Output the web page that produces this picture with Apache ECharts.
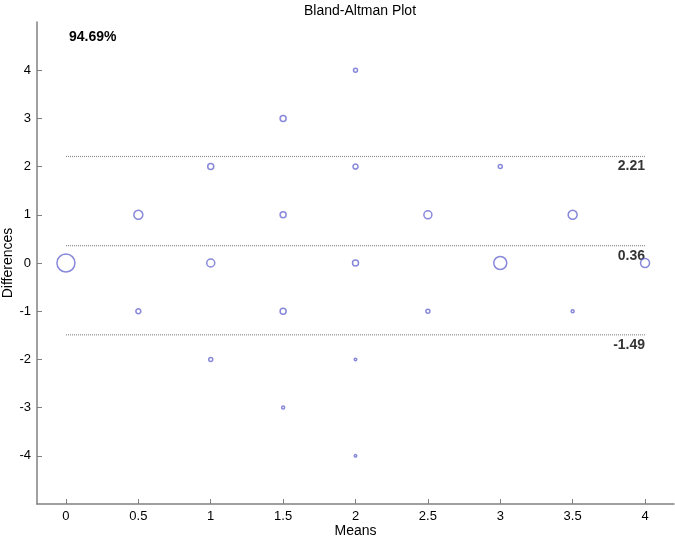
<!DOCTYPE html>
<html>
<head>
<meta charset="utf-8">
<script src="https://cdn.jsdelivr.net/npm/echarts@6/dist/echarts.min.js"></script>
<style>html,body{margin:0;padding:0;background:#fff}#chart{width:675px;height:539px}</style>
</head>
<body>
<div id="chart"></div>
<script>
// Data
var means =       [0, 0.5, 0.5, 1, 1, 1, 1.5, 1.5, 1.5, 1.5, 2, 2, 2, 2, 2, 2.5, 2.5, 3, 3, 3.5, 3.5, 4];
var differences = [0, 1, -1, 2, 0, -2, 3, 1, -1, -3, 4, 2, 0, -2, -4, 1, -1, 2, 0, 1, -1, 0];
// marker diameter (reflects how many observations share the point)
var markerDiameter = [18, 9, 5, 6, 8, 4, 6, 6, 6, 3, 4, 5, 6, 2.5, 2.5, 8, 4, 4, 13, 9, 3, 9];
var limitValues = [2.21, 0.36, -1.49];
var limitLabels = ['2.21', '0.36', '-1.49'];
var xTicks = [0, 0.5, 1, 1.5, 2, 2.5, 3, 3.5, 4];
var yTicks = [-4, -3, -2, -1, 0, 1, 2, 3, 4];
var agreementText = '94.69%';

var chart = echarts.init(document.getElementById('chart'));
var font = 'Liberation Sans, Arial, sans-serif';

var points = means.map(function (m, i) {
  return { value: [m, differences[i]], symbolSize: markerDiameter[i] };
});

var series = [{
  type: 'scatter',
  data: points,
  symbol: 'circle',
  itemStyle: { color: 'rgba(255,255,255,0)', borderColor: '#6a6ad2', borderWidth: 1.5 },
  z: 5,
  silent: true
}];

limitValues.forEach(function (v, i) {
  series.push({
    type: 'line',
    data: [[xTicks[0], v], [xTicks[xTicks.length - 1], v]],
    symbol: 'none',
    lineStyle: { color: '#8c8c8c', width: 1.2, type: [1, 1] },
    silent: true,
    z: 3
  });
  series.push({
    type: 'scatter',
    data: [[xTicks[xTicks.length - 1], v]],
    symbolSize: 0,
    silent: true,
    label: {
      show: true,
      position: [0, 10],
      align: 'right',
      verticalAlign: 'middle',
      formatter: limitLabels[i],
      fontFamily: font,
      fontSize: 14,
      fontWeight: 'bold',
      color: '#000'
    },
    z: 4
  });
});

chart.setOption({
  animation: false,
  backgroundColor: '#fff',
  title: [{
    text: 'Bland-Altman Plot',
    left: 355,
    textAlign: 'center',
    top: -1,
    textStyle: { fontFamily: font, fontSize: 14, fontWeight: 'normal', color: '#000' }
  }, {
    text: agreementText,
    left: 64,
    top: 25,
    textStyle: { fontFamily: font, fontSize: 14, fontWeight: 'bold', color: '#000' }
  }],
  grid: { left: 37, right: 1, top: 22, bottom: 35, containLabel: false, outerBoundsMode: 'none' },
  xAxis: {
    type: 'value',
    min: -0.2,
    max: 4.2,
    interval: 0.5,
    name: 'Means',
    nameLocation: 'middle',
    nameGap: 20,
    nameMoveOverlap: false,
    nameTextStyle: { fontFamily: font, fontSize: 14, color: '#000' },
    axisLine: { show: true, onZero: false, lineStyle: { color: '#808080', width: 1.5 } },
    axisTick: { show: true, inside: true, length: 5, lineStyle: { color: '#808080' },
      customValues: xTicks },
    axisLabel: { fontFamily: font, fontSize: 13, color: '#000', margin: 6,
      customValues: xTicks,
      formatter: function (v) { return String(v); } },
    splitLine: { show: false }
  },
  yAxis: {
    type: 'value',
    min: -5,
    max: 5,
    interval: 1,
    name: 'Differences',
    nameLocation: 'middle',
    nameGap: 22,
    nameMoveOverlap: false,
    nameTextStyle: { fontFamily: font, fontSize: 14, color: '#000' },
    axisLine: { show: true, onZero: false, lineStyle: { color: '#808080', width: 1.5 } },
    axisTick: { show: true, inside: true, length: 5, lineStyle: { color: '#808080' },
      customValues: yTicks },
    axisLabel: { fontFamily: font, fontSize: 13, color: '#000', margin: 6,
      customValues: yTicks },
    splitLine: { show: false }
  },
  series: series
});
</script>
</body>
</html>
